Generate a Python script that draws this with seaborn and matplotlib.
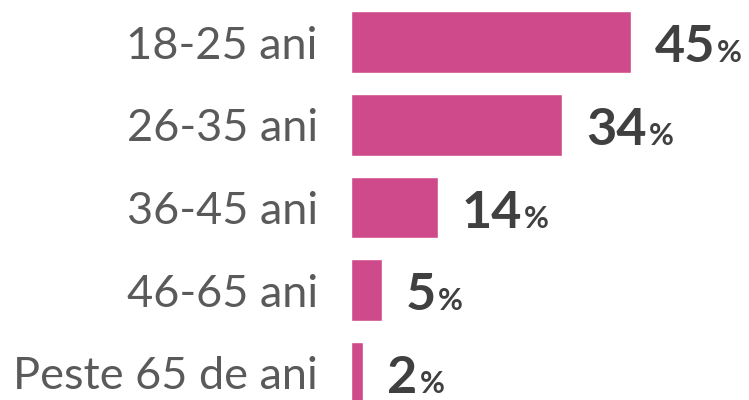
import matplotlib
matplotlib.use("Agg")
import matplotlib.pyplot as plt
import seaborn as sns
import pandas as pd

# age groups and share of respondents (%)
groups = ["18-25 ani", "26-35 ani", "36-45 ani", "46-65 ani", "Peste 65 de ani"]
shares = [45, 34, 14, 5, 2]

bar_color = "#cf4a8a"
label_color = "#5a5a5a"
value_color = "#404040"

df = pd.DataFrame({"group": groups, "share": shares})

sns.set_style("white")
plt.rcParams["font.family"] = ["Lato", "DejaVu Sans"]

fig = plt.figure(figsize=(7.49, 4.0), dpi=100)
ax = fig.add_axes([351 / 749, -14 / 400, 373 / 749, 413 / 400])

sns.barplot(data=df, x="share", y="group", orient="h", color=bar_color,
            saturation=1, width=0.75, ax=ax)

ax.set_xlim(0, 60)
ax.set_ylim(4.5, -0.5)
ax.set_xlabel("")
ax.set_ylabel("")
ax.set_xticks([])
sns.despine(ax=ax, left=True, bottom=True)
ax.tick_params(axis="y", length=0, pad=24, labelsize=32.5, labelcolor=label_color)

fig.canvas.draw()
renderer = fig.canvas.get_renderer()
for i, v in enumerate(shares):
    t = ax.annotate(str(v), xy=(v, i), xytext=(17, -14.5), textcoords="offset points",
                    ha="left", va="baseline", fontsize=37.5, fontweight="bold",
                    color=value_color)
    bb = t.get_window_extent(renderer=renderer)
    x_end = ax.transData.inverted().transform((bb.x1, bb.y0))[0]
    ax.annotate("%", xy=(x_end, i), xytext=(1.5, -14.5), textcoords="offset points",
                ha="left", va="baseline", fontsize=22, fontweight="bold",
                color=value_color, annotation_clip=False)

fig.savefig("out.png", dpi=100, facecolor="white")
